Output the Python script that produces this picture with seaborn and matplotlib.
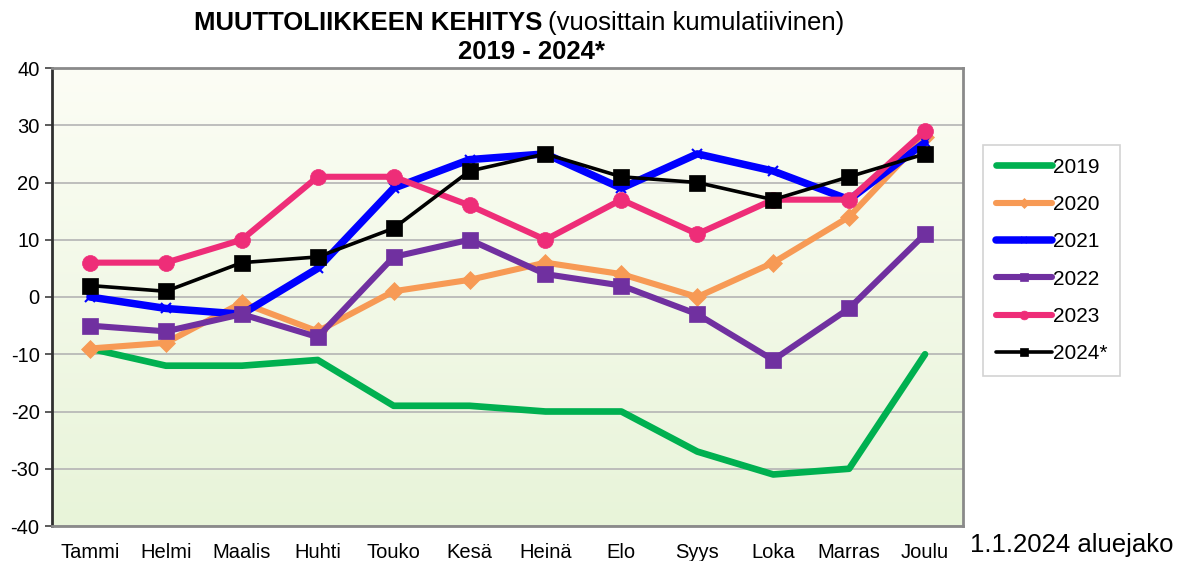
import numpy as np
import pandas as pd
import seaborn as sns
from matplotlib import pyplot as plt
from matplotlib.colors import LinearSegmentedColormap

months = ["Tammi", "Helmi", "Maalis", "Huhti", "Touko", "Kesä",
          "Heinä", "Elo", "Syys", "Loka", "Marras", "Joulu"]

v2019 = [-9, -12, -12, -11, -19, -19, -20, -20, -27, -31, -30, -10]
v2020 = [-9, -8, -1, -6, 1, 3, 6, 4, 0, 6, 14, 28]
v2021 = [0, -2, -3, 5, 19, 24, 25, 19, 25, 22, 17, 27]
v2022 = [-5, -6, -3, -7, 7, 10, 4, 2, -3, -11, -2, 11]
v2023 = [6, 6, 10, 21, 21, 16, 10, 17, 11, 17, 17, 29]
v2024 = [2, 1, 6, 7, 12, 22, 25, 21, 20, 17, 21, 25]

labels = ["2019", "2020", "2021", "2022", "2023", "2024*"]

sns.set_style("white")
plt.rcParams['font.family'] = ['Liberation Sans', 'DejaVu Sans']
plt.rcParams['axes.unicode_minus'] = False
plt.rcParams['text.color'] = 'black'
plt.rcParams['xtick.color'] = 'black'
plt.rcParams['ytick.color'] = 'black'

fig = plt.figure(figsize=(11.77, 5.61), dpi=100)
ax = fig.add_axes([52/1177, 1 - 526/561, (963-52)/1177, (526-68)/561])

# taustan liukuväri
cmap = LinearSegmentedColormap.from_list("bg", ["#e8f4d9", "#fcfdf5"])
grad = np.linspace(0, 1, 256).reshape(-1, 1)
ax.imshow(grad, extent=[0, 1, 0, 1], transform=ax.transAxes, cmap=cmap,
          aspect="auto", origin="lower", zorder=0)

styles = [
    (v2019, "#00b050", 4.8, None, 0),
    (v2020, "#f79a55", 4.4, "D", 9),
    (v2021, "#0000ff", 5.4, "x", 7),
    (v2022, "#7030a0", 4.4, "s", 11.5),
    (v2023, "#ee2d78", 4.4, "o", 11.5),
    (v2024, "#000000", 2.6, "s", 11),
]

for (vals, color, lw, marker, ms), lab in zip(styles, labels):
    df = pd.DataFrame({"kk": months, "arvo": vals})
    sns.lineplot(data=df, x="kk", y="arvo", sort=False, ax=ax, color=color,
                 linewidth=lw, marker=marker, markersize=ms,
                 markeredgecolor=color, markeredgewidth=1.5 if marker == "x" else 0.5,
                 label=lab, zorder=3)

ax.set_xlim(-0.5, 11.5)
ax.set_ylim(-40, 40)
ax.set_yticks(range(-40, 41, 10))
ax.set_xlabel("")
ax.set_ylabel("")
ax.grid(axis="y", color="#b4b4b4", linewidth=1.2, zorder=1)
ax.set_axisbelow(True)

ax.tick_params(axis="y", length=5, width=1.2, color="#404040", labelcolor="black",
               labelsize=14.5, pad=4, left=True)
ax.tick_params(axis="x", length=0, labelsize=14.5, labelcolor="black", pad=12)
for side in ["top", "right", "bottom"]:
    ax.spines[side].set_color("#8a8a8a")
    ax.spines[side].set_linewidth(2)
ax.spines["left"].set_color("#303030")
ax.spines["left"].set_linewidth(2)

leg = ax.legend(loc="upper left", bbox_to_anchor=(983/1177, 1 - 145/561),
                bbox_transform=fig.transFigure, fontsize=15, frameon=True,
                fancybox=False, edgecolor="#c8c8c8", handlelength=2.7,
                handletextpad=0.05, labelspacing=0.88, borderpad=0.6,
                borderaxespad=0, markerscale=0.55)
leg.get_frame().set_linewidth(1.2)
for t in leg.get_texts():
    t.set_color("black")

fig.text(542/1177, 1 - 23/561, "MUUTTOLIIKKEEN KEHITYS", ha="right", va="center",
         fontsize=18.5, fontweight="bold", color="black")
fig.text(548/1177, 1 - 23/561, "(vuosittain kumulatiivinen)", ha="left", va="center",
         fontsize=18.5, color="black")
fig.text(531/1177, 1 - 52/561, "2019 - 2024*", ha="center", va="center",
         fontsize=18.5, fontweight="bold", color="black")
fig.text(1072/1177, 1 - 545/561, "1.1.2024 aluejako", ha="center", va="center",
         fontsize=18.5, color="black")

plt.savefig("out.png", dpi=100)
